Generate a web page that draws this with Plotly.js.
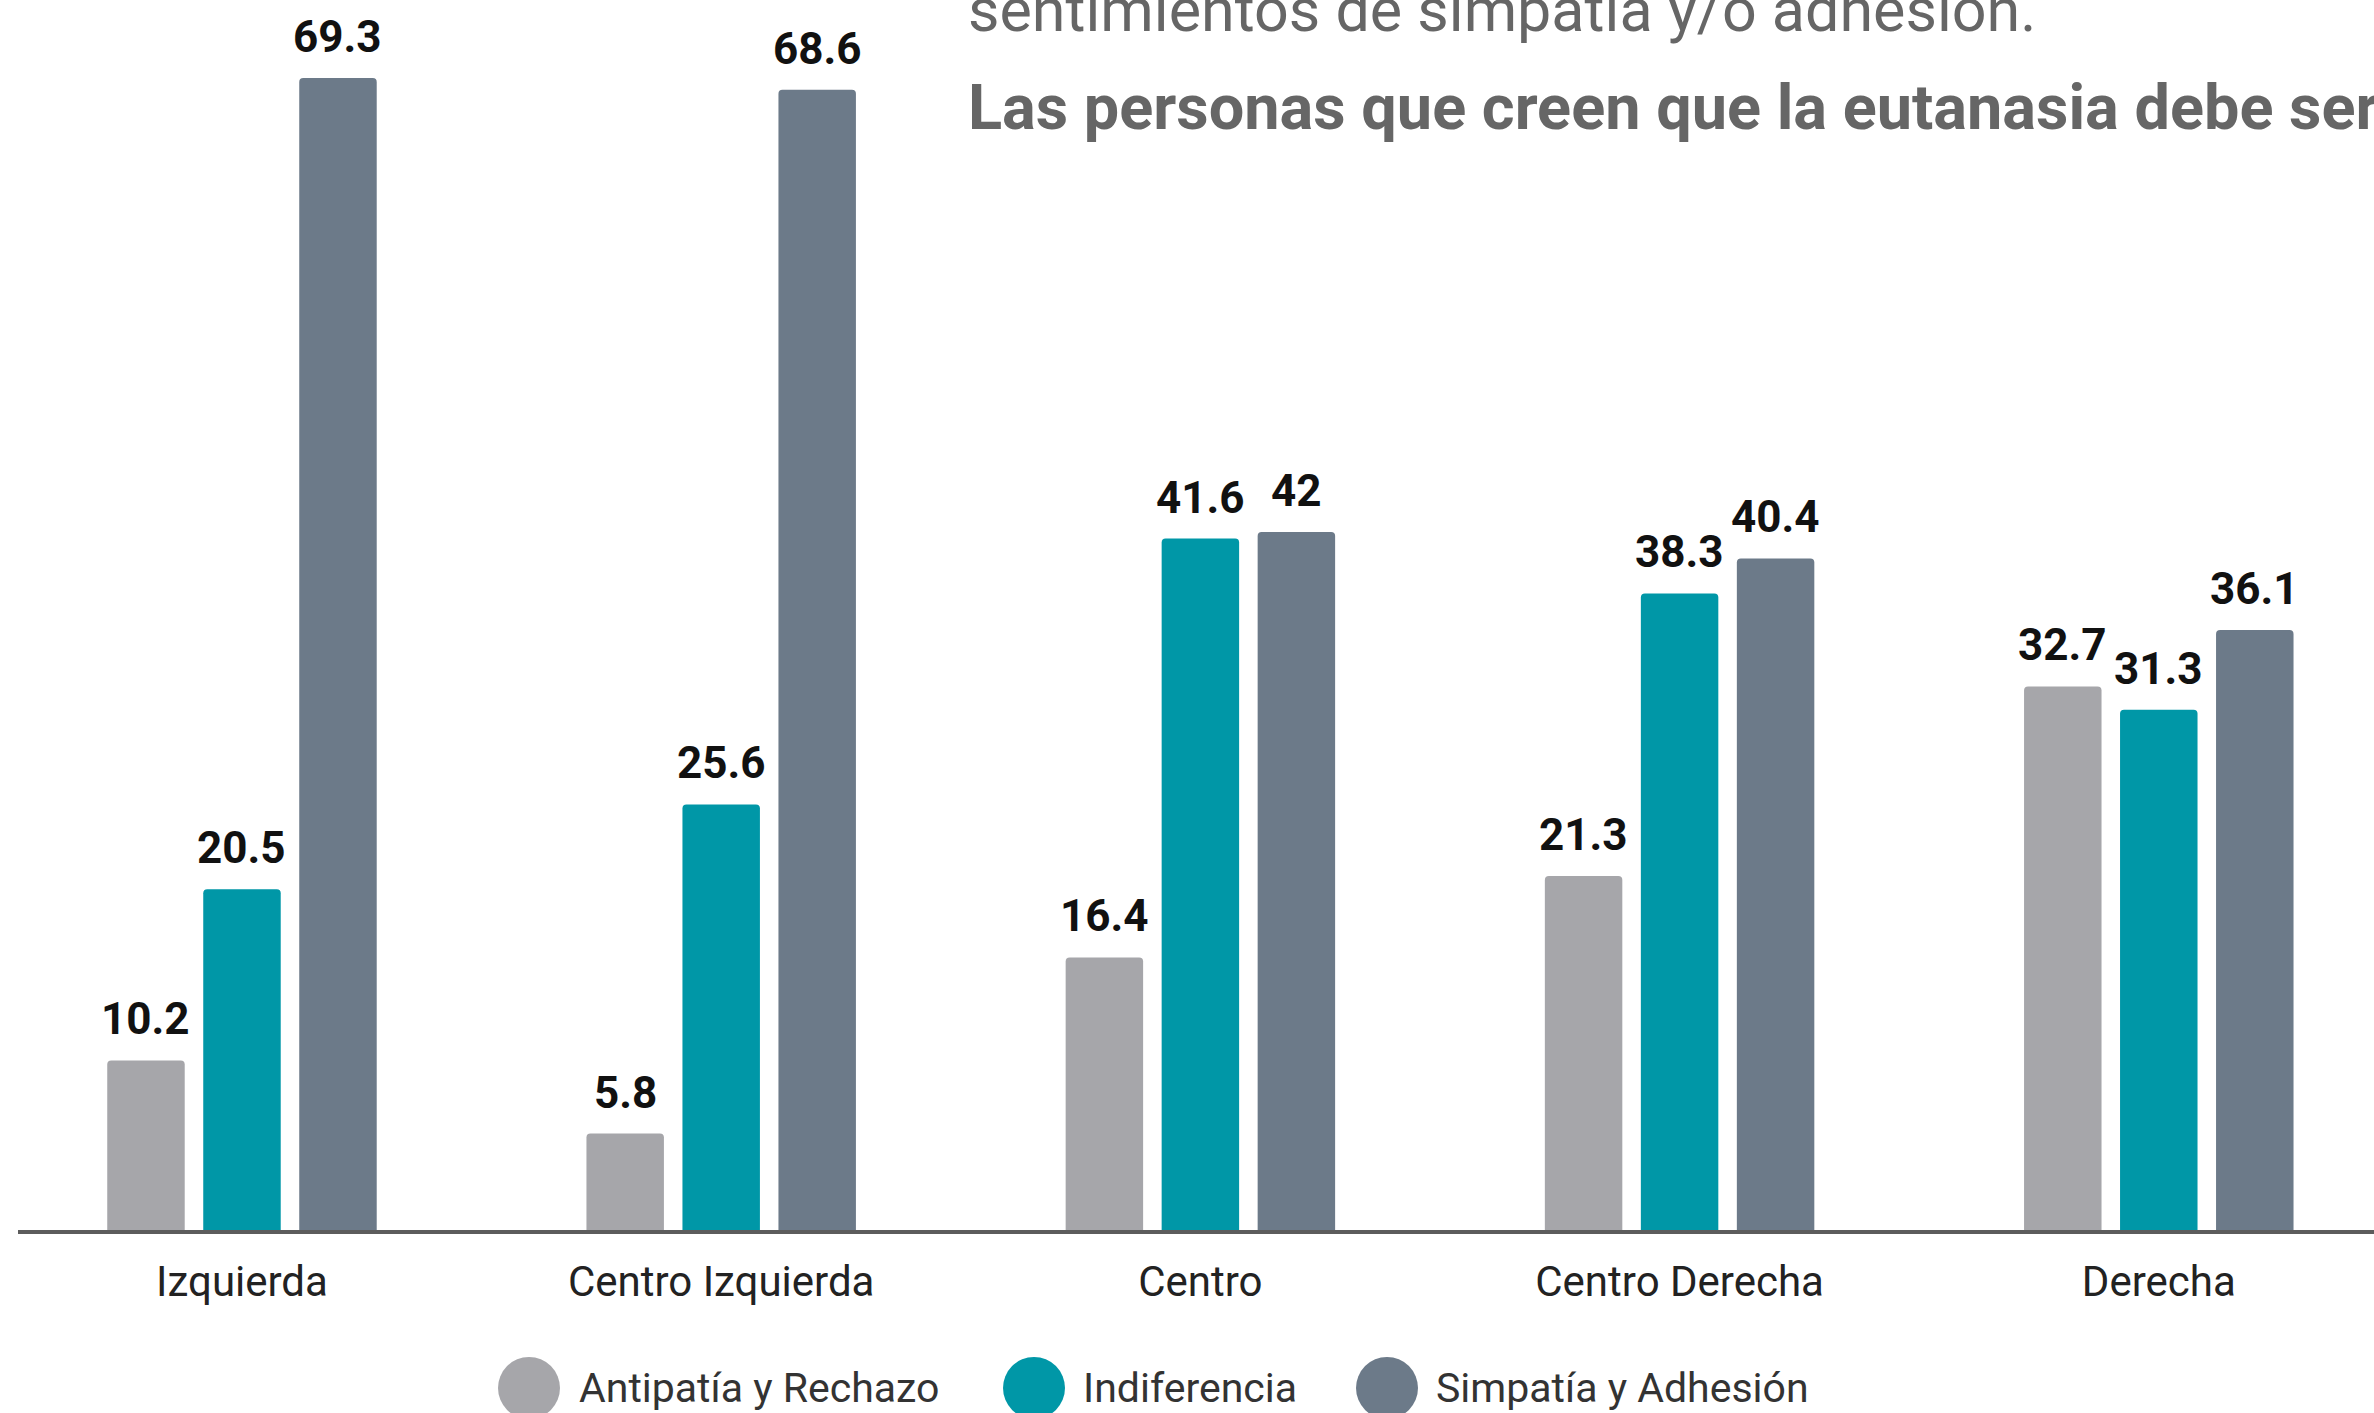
<!DOCTYPE html>
<html><head><meta charset="utf-8">
<script src="https://cdn.plot.ly/plotly-3.0.1.min.js"></script>
<style>html,body{margin:0;padding:0;background:#fff;overflow:hidden;} #chart{width:2374px;height:1413px;}</style>
</head><body><div id="chart"></div>
<script>
// ---- data ----
const categories = ["Izquierda", "Centro Izquierda", "Centro", "Centro Derecha", "Derecha"];
const seriesNames = ["Antipatía y Rechazo", "Indiferencia", "Simpatía y Adhesión"];
const antipatia = [10.2, 5.8, 16.4, 21.3, 32.7];
const indiferencia = [20.5, 25.6, 41.6, 38.3, 31.3];
const simpatia = [69.3, 68.6, 42, 40.4, 36.1];
const titleLine1 = "sentimientos de simpatía y/o adhesión.";
const titleLine2 = "Las personas que creen que la eutanasia debe ser";

// ---- styles / layout constants ----
const colors = ["#a6a6aa", "#0097a7", "#6c7a89"];
const W = 2374, H = 1413;
const M = {l: 18, r: 0, t: 0, b: 183};
const plotW = W - M.l - M.r, plotH = H - M.t - M.b;
const xRange = [-0.4674, 4.4491];
const yRange = [0, 74.0];
const bargap = 0.399, bargroupgap = 0.193;
const catPx = plotW / (xRange[1] - xRange[0]);
const slotPx = catPx * (1 - bargap) / 3;
const legendCircleX = [529, 1034, 1387];
const legendTextX = [577, 1081, 1434];
const legendY = 1388;

const px2x = p => (p - M.l) / plotW;
const py2y = p => (M.t + plotH - p) / plotH;

const seriesValues = [antipatia, indiferencia, simpatia];

const traces = seriesValues.map((vals, s) => ({
  type: "bar",
  name: seriesNames[s],
  x: categories,
  y: vals,
  marker: {color: colors[s], line: {width: 0}},
  hoverinfo: "skip",
  showlegend: false
}));

const annotations = [];
seriesValues.forEach((vals, s) => {
  vals.forEach((v, i) => {
    annotations.push({
      xref: "x", yref: "y", x: categories[i], y: v,
      xshift: (s - 1) * slotPx, yshift: 41,
      xanchor: "center", yanchor: "middle",
      text: String(v), showarrow: false,
      font: {family: "Roboto", size: 44, color: "#111111", weight: 700}
    });
  });
});

annotations.push({
  xref: "paper", yref: "paper", x: px2x(966), y: py2y(10),
  xanchor: "left", yanchor: "middle", showarrow: false,
  text: titleLine1, font: {family: "Roboto", size: 61, color: "#666666"}
});
annotations.push({
  xref: "paper", yref: "paper", x: px2x(966), y: py2y(107),
  xanchor: "left", yanchor: "middle", showarrow: false,
  text: "<b>" + titleLine2 + "</b>", font: {family: "Roboto", size: 63, color: "#666666"}
});

const shapes = [];
seriesNames.forEach((name, s) => {
  shapes.push({
    type: "circle", xref: "paper", yref: "paper",
    xsizemode: "pixel", ysizemode: "pixel",
    xanchor: px2x(legendCircleX[s]), yanchor: py2y(legendY),
    x0: -31, x1: 31, y0: -31, y1: 31,
    fillcolor: colors[s], line: {width: 0}
  });
  annotations.push({
    xref: "paper", yref: "paper", x: px2x(legendTextX[s]), y: py2y(legendY),
    xanchor: "left", yanchor: "middle", showarrow: false,
    text: name, font: {family: "Roboto", size: 41, color: "#333333"}
  });
});

const layout = {
  width: W, height: H,
  margin: M,
  paper_bgcolor: "#ffffff", plot_bgcolor: "#ffffff",
  barmode: "group", bargap: bargap, bargroupgap: bargroupgap,
  barcornerradius: 4,
  showlegend: false,
  xaxis: {
    type: "category", range: xRange,
    showline: true, linecolor: "#5c5c5c", linewidth: 4,
    ticks: "", showgrid: false, zeroline: false,
    ticklabelstandoff: 12,
    tickfont: {family: "Roboto", size: 42, color: "#222222"},
    fixedrange: true
  },
  yaxis: {range: yRange, visible: false, showgrid: false, zeroline: false, fixedrange: true},
  annotations: annotations,
  shapes: shapes
};

Plotly.newPlot("chart", traces, layout, {displayModeBar: false, staticPlot: true});
</script>
</body></html>
